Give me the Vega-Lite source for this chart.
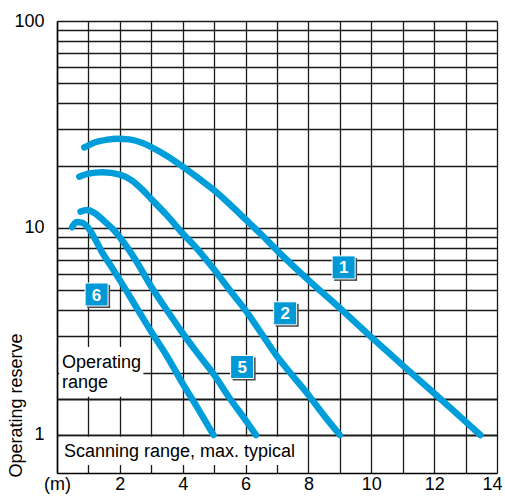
{
  "$schema": "https://vega.github.io/schema/vega-lite/v6.json",
  "width": 440,
  "height": 452,
  "autosize": {"type": "none"},
  "padding": {"left": 57, "top": 21, "right": 8, "bottom": 29},
  "config": {"view": {"stroke": null}, "font": "Liberation Sans"},
  "datasets": {
    "panels": [
      {"x": 0.07, "xe": 2.75, "y": 1.53, "ye": 2.66},
      {"x": 0.07, "xe": 7.9, "y": 0.716, "ye": 0.98}
    ],
    "notes": [
      {"x": 0.16, "y": 2.11, "text": "Operating\nrange"},
      {"x": 0.22, "y": 0.785, "text": "Scanning range, max. typical"}
    ],
    "curves": [
      {"curve": "1", "x": 0.87, "y": 24.5}, {"curve": "1", "x": 1.2, "y": 25.9}, {"curve": "1", "x": 1.6, "y": 26.7},
      {"curve": "1", "x": 1.9, "y": 27.0}, {"curve": "1", "x": 2.3, "y": 26.8}, {"curve": "1", "x": 2.7, "y": 25.8},
      {"curve": "1", "x": 3.0, "y": 24.6}, {"curve": "1", "x": 3.5, "y": 22.3}, {"curve": "1", "x": 4.0, "y": 19.8},
      {"curve": "1", "x": 4.5, "y": 17.4}, {"curve": "1", "x": 5.0, "y": 15.2}, {"curve": "1", "x": 5.5, "y": 13.0},
      {"curve": "1", "x": 6.0, "y": 11.0}, {"curve": "1", "x": 6.5, "y": 9.3}, {"curve": "1", "x": 7.0, "y": 7.8},
      {"curve": "1", "x": 8.0, "y": 5.6}, {"curve": "1", "x": 9.0, "y": 4.1}, {"curve": "1", "x": 10.0, "y": 2.97},
      {"curve": "1", "x": 11.0, "y": 2.17}, {"curve": "1", "x": 12.0, "y": 1.59}, {"curve": "1", "x": 13.0, "y": 1.16},
      {"curve": "1", "x": 13.47, "y": 1.0},
      {"curve": "2", "x": 0.71, "y": 17.7}, {"curve": "2", "x": 1.0, "y": 18.3}, {"curve": "2", "x": 1.45, "y": 18.6},
      {"curve": "2", "x": 2.0, "y": 18.1}, {"curve": "2", "x": 2.4, "y": 16.9}, {"curve": "2", "x": 2.7, "y": 15.4},
      {"curve": "2", "x": 3.0, "y": 13.8}, {"curve": "2", "x": 3.5, "y": 11.5}, {"curve": "2", "x": 4.0, "y": 9.4},
      {"curve": "2", "x": 4.5, "y": 7.8}, {"curve": "2", "x": 5.0, "y": 6.3}, {"curve": "2", "x": 5.5, "y": 5.0},
      {"curve": "2", "x": 6.0, "y": 4.0}, {"curve": "2", "x": 6.5, "y": 3.1}, {"curve": "2", "x": 7.0, "y": 2.4},
      {"curve": "2", "x": 7.5, "y": 1.93}, {"curve": "2", "x": 8.0, "y": 1.56}, {"curve": "2", "x": 8.5, "y": 1.24},
      {"curve": "2", "x": 9.0, "y": 1.0},
      {"curve": "5", "x": 0.75, "y": 12.0}, {"curve": "5", "x": 0.95, "y": 12.2}, {"curve": "5", "x": 1.2, "y": 11.8},
      {"curve": "5", "x": 1.5, "y": 10.8}, {"curve": "5", "x": 1.8, "y": 9.8}, {"curve": "5", "x": 2.1, "y": 8.6},
      {"curve": "5", "x": 2.5, "y": 7.0}, {"curve": "5", "x": 3.0, "y": 5.2}, {"curve": "5", "x": 3.5, "y": 4.0},
      {"curve": "5", "x": 4.0, "y": 3.1}, {"curve": "5", "x": 4.5, "y": 2.45}, {"curve": "5", "x": 5.0, "y": 1.95},
      {"curve": "5", "x": 5.5, "y": 1.5}, {"curve": "5", "x": 6.0, "y": 1.18}, {"curve": "5", "x": 6.33, "y": 1.0},
      {"curve": "6", "x": 0.48, "y": 10.1}, {"curve": "6", "x": 0.62, "y": 10.7}, {"curve": "6", "x": 0.8, "y": 10.6},
      {"curve": "6", "x": 1.0, "y": 10.0}, {"curve": "6", "x": 1.2, "y": 8.9}, {"curve": "6", "x": 1.4, "y": 7.8},
      {"curve": "6", "x": 1.7, "y": 6.6}, {"curve": "6", "x": 2.0, "y": 5.6}, {"curve": "6", "x": 2.5, "y": 4.2},
      {"curve": "6", "x": 3.0, "y": 3.15}, {"curve": "6", "x": 3.5, "y": 2.4}, {"curve": "6", "x": 4.0, "y": 1.77},
      {"curve": "6", "x": 4.5, "y": 1.33}, {"curve": "6", "x": 4.98, "y": 1.0}
    ],
    "boxes": [
      {"label": "1", "x": 9.12, "y": 6.45},
      {"label": "2", "x": 7.26, "y": 3.87},
      {"label": "5", "x": 5.89, "y": 2.13},
      {"label": "6", "x": 1.26, "y": 4.77}
    ]
  },
  "encoding": {
    "x": {
      "field": "x",
      "type": "quantitative",
      "scale": {"domain": [0, 14], "nice": false, "zero": false},
      "axis": {
        "values": [0, 1, 2, 3, 4, 5, 6, 7, 8, 9, 10, 11, 12, 13, 14],
        "grid": true,
        "gridColor": "#1a1a1a",
        "gridWidth": 1.3,
        "gridOpacity": 1,
        "ticks": false,
        "domainColor": "#000000",
        "domainWidth": 1.5,
        "labelExpr": "datum.value == 0 ? '(m)' : (datum.value % 2 == 0 ? datum.label : '')",
        "labelFontSize": 18,
        "labelColor": "#000000",
        "labelPadding": 2,
        "labelOffset": {"condition": {"test": "datum.value == 14", "value": -5}, "value": 0},
        "labelFlush": false,
        "labelOverlap": false,
        "title": null
      }
    },
    "y": {
      "field": "y",
      "type": "quantitative",
      "scale": {"type": "log", "domain": [0.655, 100], "nice": false},
      "axis": {
        "values": [1, 1.5, 2, 3, 4, 5, 6, 7, 8, 9, 10, 20, 30, 40, 50, 60, 70, 80, 90, 100],
        "grid": true,
        "gridColor": "#1a1a1a",
        "gridWidth": {"condition": {"test": "datum.value == 1 || datum.value == 1.5", "value": 2}, "value": 1.3},
        "gridOpacity": 1,
        "ticks": false,
        "domainColor": "#000000",
        "domainWidth": 1.5,
        "labelExpr": "datum.value == 1 || datum.value == 10 || datum.value == 100 ? format(datum.value, 'd') : ''",
        "labelFontSize": 18,
        "labelColor": "#000000",
        "labelPadding": 13,
        "labelOverlap": false,
        "labelFlush": false,
        "title": "Operating reserve",
        "titleFontSize": 18,
        "titleFontWeight": "normal",
        "titleColor": "#000000",
        "titleAngle": -90,
        "titleX": -41,
        "titleY": 456,
        "titleAlign": "left",
        "titleBaseline": "middle"
      }
    }
  },
  "layer": [
    {
      "data": {"name": "panels"},
      "mark": {"type": "rect", "fill": "#ffffff"},
      "encoding": {"x2": {"field": "xe"}, "y2": {"field": "ye"}}
    },
    {
      "data": {"name": "notes"},
      "mark": {"type": "text", "align": "left", "baseline": "alphabetic", "fontSize": 18, "lineBreak": "\n", "lineHeight": 20, "color": "#000000"},
      "encoding": {"text": {"field": "text"}}
    },
    {
      "data": {"name": "curves"},
      "mark": {"type": "line", "color": "#009ddb", "strokeWidth": 6.5, "strokeCap": "round", "strokeJoin": "round", "interpolate": "monotone"},
      "encoding": {"detail": {"field": "curve"}}
    },
    {
      "data": {"name": "boxes"},
      "mark": {"type": "point", "shape": "square", "filled": true, "size": 529, "fill": "#4a4a4a", "opacity": 1, "strokeWidth": 0, "xOffset": 2, "yOffset": 2}
    },
    {
      "data": {"name": "boxes"},
      "mark": {"type": "point", "shape": "square", "filled": true, "size": 529, "fill": "#0099d6", "opacity": 1, "stroke": "#ffffff", "strokeWidth": 1}
    },
    {
      "data": {"name": "boxes"},
      "mark": {"type": "text", "color": "#ffffff", "fontSize": 17, "fontWeight": "bold", "align": "center", "baseline": "middle", "dy": 1},
      "encoding": {"text": {"field": "label"}}
    }
  ]
}
